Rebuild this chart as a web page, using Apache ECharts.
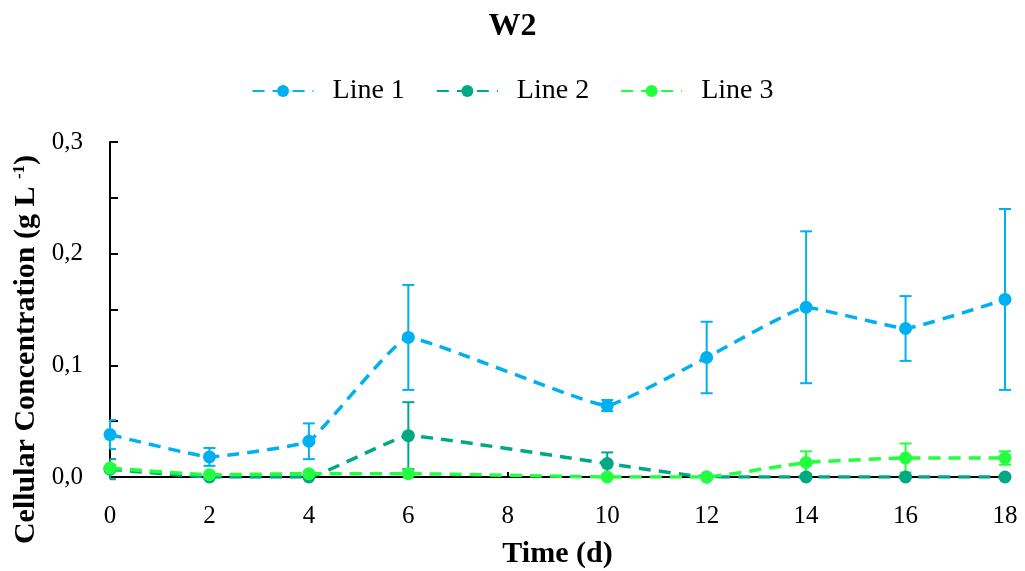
<!DOCTYPE html>
<html>
<head>
<meta charset="utf-8">
<title>W2</title>
<script src="https://cdn.jsdelivr.net/npm/echarts@6/dist/echarts.min.js"></script>
<style>
  html, body { margin: 0; padding: 0; background: #fff; }
  #chart { width: 1025px; height: 571px; }
</style>
</head>
<body>
<div id="chart"></div>
<script>
// Sampling days
const days = [0, 2, 4, 6, 10, 12, 14, 16, 18];

// Mean cellular concentration (g/L) and standard deviation per line
const line1 = [0.038, 0.018, 0.032, 0.125, 0.064, 0.107, 0.152, 0.133, 0.159];
const line1Err = [0.013, 0.008, 0.016, 0.047, 0.005, 0.032, 0.068, 0.029, 0.081];

const line2 = [0.007, 0.000, 0.000, 0.037, 0.012, 0.000, 0.000, 0.000, 0.000];
const line2Err = [0.009, 0.000, 0.000, 0.030, 0.010, 0.000, 0.000, 0.000, 0.000];

const line3 = [0.008, 0.002, 0.003, 0.003, 0.000, 0.000, 0.013, 0.017, 0.017];
const line3Err = [0.003, 0.000, 0.000, 0.000, 0.000, 0.000, 0.010, 0.013, 0.006];

const seriesNames = ['Line 1', 'Line 2', 'Line 3'];
const xTicks = [0, 2, 4, 6, 8, 10, 12, 14, 16, 18];

const colors = ['#00B0F0', '#00A983', '#22FF3E'];
const FONT = '"Liberation Serif", "DejaVu Serif", serif';

const means = [line1, line2, line3];
const errs = [line1Err, line2Err, line3Err];

function lineSeries(i) {
  return {
    name: seriesNames[i],
    type: 'line',
    data: days.map((d, k) => [d, means[i][k]]),
    smooth: 0.1,
    symbol: 'circle',
    symbolSize: 13,
    z: 3 + i,
    itemStyle: { color: colors[i] },
    lineStyle: { color: colors[i], width: 3.5, type: [12, 8] }
  };
}

// Vertical error bar with flat caps at mean ± sd; caps stop at the plot's left edge
function errorSeries(i) {
  return {
    type: 'custom',
    z: 2,
    clip: false,
    data: days.map((d, k) => [d, means[i][k], errs[i][k]]),
    renderItem: function (params, api) {
      const x = api.value(0), y = api.value(1), e = api.value(2);
      if (!e) return null;
      const hi = api.coord([x, y + e]);
      const lo = api.coord([x, y - e]);
      const w = 6;
      const left = Math.max(hi[0] - w, params.coordSys.x);
      const style = { stroke: colors[i], lineWidth: 2, fill: null };
      return {
        type: 'group',
        children: [
          { type: 'line', shape: { x1: hi[0], y1: hi[1], x2: lo[0], y2: lo[1] }, style: style },
          { type: 'line', shape: { x1: left, y1: hi[1], x2: hi[0] + w, y2: hi[1] }, style: style },
          { type: 'line', shape: { x1: left, y1: lo[1], x2: lo[0] + w, y2: lo[1] }, style: style }
        ]
      };
    }
  };
}

const chart = echarts.init(document.getElementById('chart'));

chart.setOption({
  animation: false,
  backgroundColor: '#ffffff',
  title: {
    text: 'W2',
    left: 'center',
    top: 6,
    textStyle: { fontFamily: FONT, fontWeight: 'bold', fontSize: 32, color: '#000' }
  },
  legend: {
    data: seriesNames,
    left: 'center',
    top: 72,
    itemWidth: 61,
    itemHeight: 15,
    itemGap: 31,
    textStyle: { fontFamily: FONT, fontSize: 28, color: '#000', padding: [0, 0, 0, 14] }
  },
  grid: { left: 110, right: 20, top: 142, bottom: 94, outerBoundsMode: 'none', containLabel: false },
  xAxis: {
    type: 'value',
    min: 0,
    max: 18,
    interval: 2,
    name: 'Time (d)',
    nameLocation: 'middle',
    nameGap: 62,
    nameTextStyle: { fontFamily: FONT, fontWeight: 'bold', fontSize: 30, color: '#000' },
    splitLine: { show: false },
    axisLine: { onZero: false, lineStyle: { color: '#000', width: 2 } },
    axisTick: { inside: true, length: 5, lineStyle: { color: '#000', width: 2 } },
    axisLabel: {
      margin: 27,
      fontFamily: FONT,
      fontSize: 25,
      color: '#000',
      formatter: function (v) { return xTicks.indexOf(v) >= 0 ? String(v) : ''; }
    }
  },
  yAxis: {
    type: 'value',
    min: 0,
    max: 0.3,
    interval: 0.05,
    name: 'Cellular Concentration (g L {sup|-1})',
    nameLocation: 'middle',
    nameGap: 66,
    nameTextStyle: {
      fontFamily: FONT,
      fontWeight: 'bold',
      fontSize: 30,
      color: '#000',
      padding: [0, 80, 0, 0],
      rich: {
        sup: { fontFamily: FONT, fontWeight: 'bold', fontSize: 17, color: '#000', verticalAlign: 'top', padding: [0, 0, 10, 0] }
      }
    },
    splitLine: { show: false },
    axisLine: { show: true, lineStyle: { color: '#000', width: 2 } },
    axisTick: { show: true, inside: true, length: 8, lineStyle: { color: '#000', width: 2 } },
    axisLabel: {
      margin: 27,
      fontFamily: FONT,
      fontSize: 25,
      color: '#000',
      formatter: function (v) {
        const r = Math.round(v * 100);
        if (r % 10 !== 0) return '';
        return (r / 100).toFixed(1).replace('.', ',');
      }
    }
  },
  series: [
    errorSeries(0), errorSeries(1), errorSeries(2),
    lineSeries(0), lineSeries(1), lineSeries(2)
  ]
});
</script>
</body>
</html>
